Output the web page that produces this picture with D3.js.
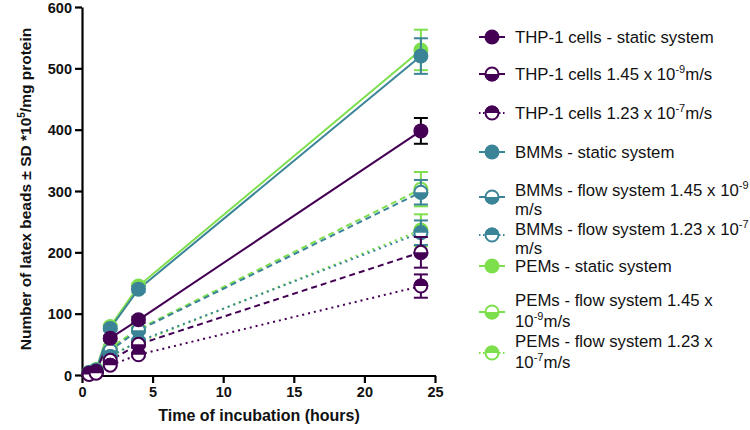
<!DOCTYPE html>
<html><head><meta charset="utf-8">
<script src="https://cdn.jsdelivr.net/npm/d3@7/dist/d3.min.js"></script>
<style>
body{margin:0;background:#fff;}
svg{display:block;font-family:"Liberation Sans",Arial,sans-serif;}
</style></head>
<body><svg id="c" width="750" height="430"></svg>
<script>
const times = [0.5, 1, 2, 4, 24];
const xTicks = [0, 5, 10, 15, 20, 25];
const yTicks = [0, 100, 200, 300, 400, 500, 600];

const thpStatic = [3, 6, 60, 90, 398];
const thpStaticSD = [1, 1, 4, 5, 21];
const thpF145 = [2, 4, 24, 50, 200];
const thpF145SD = [1, 1, 3, 4, 25];
const thpF123 = [1, 3, 16, 33, 145];
const thpF123SD = [1, 1, 2, 3, 19];
const bmmStatic = [4, 8, 76, 140, 520];
const bmmStaticSD = [1, 1, 4, 5, 29];
const bmmF145 = [3, 6, 40, 73, 298];
const bmmF145SD = [1, 1, 3, 4, 20];
const bmmF123 = [2, 5, 30, 55, 232];
const bmmF123SD = [1, 1, 3, 4, 20];
const pemStatic = [4, 9, 79, 145, 530];
const pemStaticSD = [1, 1, 4, 5, 33];
const pemF145 = [3, 7, 44, 75, 303];
const pemF145SD = [1, 1, 3, 4, 28];
const pemF123 = [2, 5, 33, 53, 236];
const pemF123SD = [1, 1, 3, 4, 26];

const seriesNames = [
  ["THP-1 cells - static system"],
  ["THP-1 cells 1.45 x 10^-9^m/s"],
  ["THP-1 cells 1.23 x 10^-7^m/s"],
  ["BMMs - static system"],
  ["BMMs - flow system 1.45 x 10^-9^", "m/s"],
  ["BMMs - flow system 1.23 x 10^-7^", "m/s"],
  ["PEMs - static system"],
  ["PEMs - flow system 1.45 x", "10^-9^m/s"],
  ["PEMs - flow system 1.23 x", "10^-7^m/s"]
];
const purple = "#440154", teal = "#3b8497", green = "#7ddf4c";
const series = [
  {v: thpStatic, sd: thpStaticSD, c: purple, kind: "static", err: "#000"},
  {v: thpF145, sd: thpF145SD, c: purple, kind: "f145"},
  {v: thpF123, sd: thpF123SD, c: purple, kind: "f123"},
  {v: bmmStatic, sd: bmmStaticSD, c: teal, kind: "static"},
  {v: bmmF145, sd: bmmF145SD, c: teal, kind: "f145"},
  {v: bmmF123, sd: bmmF123SD, c: teal, kind: "f123"},
  {v: pemStatic, sd: pemStaticSD, c: green, kind: "static"},
  {v: pemF145, sd: pemF145SD, c: green, kind: "f145"},
  {v: pemF123, sd: pemF123SD, c: green, kind: "f123"}
];
series.forEach((s,i)=>s.name = seriesNames[i]);

const dash = {static: null, f145: "6,4", f123: "2,4"};

const svg = d3.select("#c");
const x = d3.scaleLinear().domain([0, 25]).range([82, 435]);
const y = d3.scaleLinear().domain([0, 600]).range([375, 7]);
const R = 7.5;

// axes
const gx = svg.append("g").attr("transform", "translate(0,376)")
  .call(d3.axisBottom(x).tickValues(xTicks).tickSize(7).tickPadding(4).tickSizeOuter(0));
const gy = svg.append("g").attr("transform", "translate(82,0)")
  .call(d3.axisLeft(y).tickValues(yTicks).tickSize(7).tickPadding(3).tickSizeOuter(0));
[gx, gy].forEach(g => {
  g.select(".domain").attr("stroke", "#000").attr("stroke-width", 2.2);
  g.selectAll(".tick line").attr("stroke", "#000").attr("stroke-width", 2.2);
  g.selectAll(".tick text").attr("font-size", 14.5).attr("font-weight", "bold")
    .attr("fill", "#111").attr("font-family", "Liberation Sans, Arial, sans-serif");
});
gy.selectAll(".tick text").attr("dy", "0.36em");
gx.select(".domain").attr("d", `M${x(0)-1},0H${x(25)+1}`);

svg.append("text").attr("x", 259).attr("y", 421).attr("text-anchor", "middle")
  .attr("font-size", 16).attr("font-weight", "bold").attr("fill", "#111")
  .text("Time of incubation (hours)");
const yt = svg.append("text").attr("transform", "translate(31,189) rotate(-90)")
  .attr("text-anchor", "middle").attr("font-size", 15.5).attr("font-weight", "bold").attr("fill", "#111");
yt.append("tspan").text("Number of latex beads ± SD *10");
yt.append("tspan").attr("font-size", 10).attr("dy", -6).text("5");
yt.append("tspan").attr("dy", 6).text("/mg protein");

function marker(g, cx, cy, s) {
  if (s.kind === "static") {
    g.append("circle").attr("cx", cx).attr("cy", cy).attr("r", R).attr("fill", s.c);
  } else {
    g.append("circle").attr("cx", cx).attr("cy", cy).attr("r", R - 1).attr("fill", "#fff")
      .attr("stroke", s.c).attr("stroke-width", 2);
    const r = R;
    const sweep = s.kind === "f145" ? 0 : 1;
    const p = `M${cx - r},${cy} A${r},${r} 0 0 ${sweep} ${cx + r},${cy} Z`;
    g.append("path").attr("d", p).attr("fill", s.c);
  }
}

const order = [6,7,8,3,4,5,0,1,2];
const line = d3.line().x((d,i)=>x(times[i])).y(d=>y(d));
order.forEach(i => {
  const s = series[i];
  svg.append("path").datum(s.v).attr("d", line).attr("fill", "none")
    .attr("stroke", s.c).attr("stroke-width", 2)
    .attr("stroke-dasharray", dash[s.kind]);
});
order.forEach(i => {
  const s = series[i];
  const g = svg.append("g");
  const ec = s.err || s.c;
  s.v.forEach((v, j) => {
    const cx = x(times[j]);
    const t = y(v + s.sd[j]), b = y(v - s.sd[j]);
    g.append("line").attr("x1", cx).attr("x2", cx).attr("y1", t).attr("y2", b)
      .attr("stroke", ec).attr("stroke-width", 2);
    [t, b].forEach(yy => g.append("line").attr("x1", cx - 7).attr("x2", cx + 7)
      .attr("y1", yy).attr("y2", yy).attr("stroke", ec).attr("stroke-width", 2));
  });
  s.v.forEach((v, j) => marker(g, x(times[j]), y(v), s));
});

// legend
const legY = [37, 74, 113, 152, 197, 235, 266, 312, 353];
const txtY = [[43], [80], [119], [158], [196, 215], [235, 254], [272], [306, 327], [347, 368]];
series.forEach((s, i) => {
  const g = svg.append("g");
  const cx = 492, cy = legY[i];
  g.append("line").attr("x1", cx - 13).attr("x2", cx + 13).attr("y1", cy).attr("y2", cy)
    .attr("stroke", s.c).attr("stroke-width", 2).attr("stroke-dasharray", s.kind==="f123"?"1.5,2.5":null);
  marker(g, cx, cy, s);
  s.name.forEach((ln, k) => {
    const t = g.append("text").attr("x", 515).attr("y", txtY[i][k]).attr("font-size", 16.8).attr("fill", "#111");
    const parts = ln.split("^");
    parts.forEach((p, pi) => {
      if (!p) return;
      if (pi % 2 === 1) t.append("tspan").attr("font-size", 11).attr("dy", -7).text(p);
      else t.append("tspan").attr("dy", pi > 0 ? 7 : 0).text(p);
    });
  });
});
</script></body></html>
